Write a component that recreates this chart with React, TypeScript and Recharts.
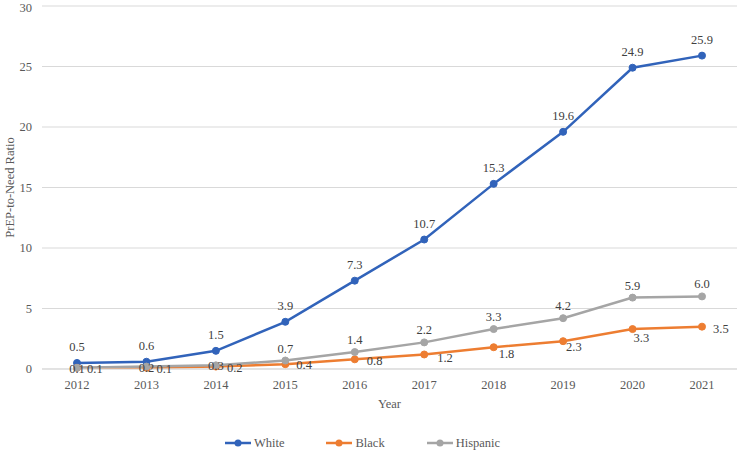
import React from 'react';
import { LineChart, Line, XAxis, YAxis, CartesianGrid, Legend, LabelList } from 'recharts';

const years = ['2012', '2013', '2014', '2015', '2016', '2017', '2018', '2019', '2020', '2021'];
const white = [0.5, 0.6, 1.5, 3.9, 7.3, 10.7, 15.3, 19.6, 24.9, 25.9];
const black = [0.1, 0.1, 0.2, 0.4, 0.8, 1.2, 1.8, 2.3, 3.3, 3.5];
const hispanic = [0.1, 0.2, 0.3, 0.7, 1.4, 2.2, 3.3, 4.2, 5.9, 6.0];
const yTicks = [0, 5, 10, 15, 20, 25, 30];

const data = years.map((y, i) => ({ year: y, White: white[i], Black: black[i], Hispanic: hispanic[i] }));

const FONT = '"Liberation Serif", "Times New Roman", serif';
const TEXT = '#595959';
const LABEL = '#404040';
const BLUE = '#3163BA';
const ORANGE = '#ED7D31';
const GRAY = '#A5A5A5';

// label placement nudges for the Black series (style only)
const blackDx = [10, 10, 11, 11, 12, 13, 5, 3, 1, 11];
const blackDy = [1, 1, 1.5, 1, 1.5, 3.5, 7, 6, 9, 2.5];

const fmt = (v: any) => Number(v).toFixed(1);

const WhiteLabel = (p: any) => (
  <text x={p.x} y={p.y - 16} textAnchor="middle" dominantBaseline="central" fontFamily={FONT} fontSize={12.5} fill={LABEL}>
    {fmt(p.value)}
  </text>
);

const HispLabel = (p: any) => {
  const dy = p.value < 0.5 ? 1 : -12;
  return (
    <text x={p.x} y={p.y + dy} textAnchor="middle" dominantBaseline="central" fontFamily={FONT} fontSize={12.5} fill={LABEL}>
      {fmt(p.value)}
    </text>
  );
};

const BlackLabel = (p: any) => (
  <text x={p.x + blackDx[p.index]} y={p.y + blackDy[p.index]} textAnchor="start" dominantBaseline="central" fontFamily={FONT} fontSize={12.5} fill={LABEL}>
    {fmt(p.value)}
  </text>
);

const legendItems = [
  { name: 'White', color: BLUE },
  { name: 'Black', color: ORANGE },
  { name: 'Hispanic', color: GRAY },
];

const LegendContent = () => (
  <div style={{ width: 740, height: 22, display: 'flex', justifyContent: 'center', alignItems: 'center', paddingRight: 15, paddingTop: 3, boxSizing: 'border-box' }}>
    {legendItems.map((it, i) => (
      <div key={it.name} style={{ display: 'flex', alignItems: 'center', marginLeft: i === 0 ? 0 : 42 }}>
        <svg width={26} height={10} style={{ display: 'block' }}>
          <line x1={0} y1={5} x2={26} y2={5} stroke={it.color} strokeWidth={2.5} />
          <circle cx={13} cy={5} r={3.5} fill={it.color} />
        </svg>
        <span style={{ marginLeft: 3, fontFamily: FONT, fontSize: 12.5, color: TEXT, lineHeight: '14px' }}>{it.name}</span>
      </div>
    ))}
  </div>
);

const YTitle = (props: any) => {
  const vb = props.viewBox || {};
  const cy = vb.y + vb.height / 2;
  return (
    <text x={10} y={cy} transform={`rotate(-90, 10, ${cy})`} textAnchor="middle" dominantBaseline="central" fontFamily={FONT} fontSize={12.5} fill={TEXT}>
      PrEP-to-Need Ratio
    </text>
  );
};

export default function App() {
  return (
    <div style={{ position: 'absolute', left: 0, top: 0, width: 740, height: 452, background: '#fff' }}>
      <LineChart width={740} height={452} data={data} margin={{ top: 6, right: 3, left: 0, bottom: 0 }}>
        <CartesianGrid vertical={false} stroke="#d9d9d9" strokeWidth={1} />
        <XAxis
          dataKey="year"
          padding={{ left: 35, right: 35 }}
          height={61}
          axisLine={{ stroke: '#d9d9d9' }}
          tickLine={false}
          tickMargin={5}
          tick={{ fill: TEXT, fontSize: 12.5, fontFamily: FONT }}
          label={{ value: 'Year', position: 'insideBottom', offset: 22, fill: TEXT, fontSize: 12.5, fontFamily: FONT }}
        />
        <YAxis
          width={42}
          domain={[0, 30]}
          ticks={yTicks}
          axisLine={false}
          tickLine={false}
          tickMargin={4}
          tick={{ fill: TEXT, fontSize: 12.5, fontFamily: FONT }}
          label={<YTitle />}
        />
        <Legend verticalAlign="bottom" height={22} content={<LegendContent />} wrapperStyle={{ left: 0, width: 740 }} />
        <Line type="linear" dataKey="White" stroke={BLUE} strokeWidth={2.5} dot={{ r: 3.5, fill: BLUE, stroke: BLUE, strokeWidth: 1 }} activeDot={false} isAnimationActive={false}>
          <LabelList dataKey="White" content={<WhiteLabel />} />
        </Line>
        <Line type="linear" dataKey="Black" stroke={ORANGE} strokeWidth={2.5} dot={{ r: 3.5, fill: ORANGE, stroke: ORANGE, strokeWidth: 1 }} activeDot={false} isAnimationActive={false}>
          <LabelList dataKey="Black" content={<BlackLabel />} />
        </Line>
        <Line type="linear" dataKey="Hispanic" stroke={GRAY} strokeWidth={2.5} dot={{ r: 3.5, fill: GRAY, stroke: GRAY, strokeWidth: 1 }} activeDot={false} isAnimationActive={false}>
          <LabelList dataKey="Hispanic" content={<HispLabel />} />
        </Line>
      </LineChart>
    </div>
  );
}
